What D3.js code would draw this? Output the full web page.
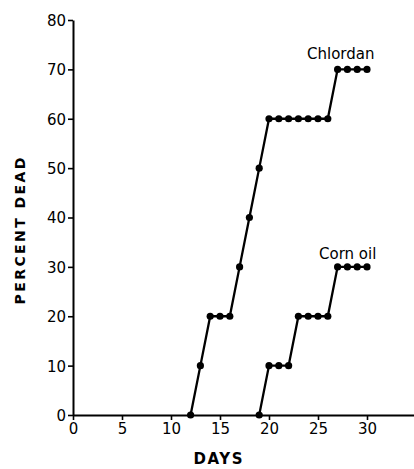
<!DOCTYPE html>
<html>
<head>
<meta charset="utf-8">
<script src="https://cdn.jsdelivr.net/npm/d3@7"></script>
<style>
  body { margin: 0; background: #fff; }
  svg { display: block; }
  text { font-family: "DejaVu Sans", Arial, sans-serif; fill: #000; }
</style>
</head>
<body>
<div id="chart-area"></div>
<script>
// data
let chlordanDays = [12, 13, 14, 15, 16, 17, 18, 19, 20, 21, 22, 23, 24, 25, 26, 27, 28, 29, 30];
let chlordanDead = [0, 10, 20, 20, 20, 30, 40, 50, 60, 60, 60, 60, 60, 60, 60, 70, 70, 70, 70];
let cornDays = [19, 20, 21, 22, 23, 24, 25, 26, 27, 28, 29, 30];
let cornDead = [0, 10, 10, 10, 20, 20, 20, 20, 30, 30, 30, 30];
let xTicks = [0, 5, 10, 15, 20, 25, 30];
let yTicks = [0, 10, 20, 30, 40, 50, 60, 70, 80];

let width = 414, height = 469;

let svg = d3.select("#chart-area").append("svg")
  .attr("width", width)
  .attr("height", height);

let x = d3.scaleLinear().domain([0, 35]).range([73, 416]);
let y = d3.scaleLinear().domain([0, 80]).range([415, 20]);

// axes
let xAxis = d3.axisBottom(x).tickValues(xTicks).tickSize(5).tickPadding(3).tickSizeOuter(0);
let yAxis = d3.axisLeft(y).tickValues(yTicks).tickSize(5).tickPadding(2).tickSizeOuter(0);

let gx = svg.append("g")
  .attr("transform", "translate(0," + y(0) + ")")
  .call(xAxis);
let gy = svg.append("g")
  .attr("transform", "translate(" + x(0) + ",0)")
  .call(yAxis);

[gx, gy].forEach(g => {
  g.select(".domain").attr("stroke", "#000").attr("stroke-width", 2);
  g.selectAll(".tick line").attr("stroke", "#000").attr("stroke-width", 1.6);
  g.selectAll(".tick text")
    .style("font-family", "'DejaVu Sans', Arial, sans-serif")
    .style("font-size", "15px")
    .attr("fill", "#000");
});
gy.selectAll(".tick text").attr("dy", "0.36em");

// series
let series = [
  {name: "Chlordan", days: chlordanDays, dead: chlordanDead, lx: 307, ly: 59},
  {name: "Corn oil", days: cornDays, dead: cornDead, lx: 319, ly: 259}
];

let line = d3.line()
  .x(d => x(d[0]))
  .y(d => y(d[1]));

series.forEach(s => {
  let pts = s.days.map((d, i) => [d, s.dead[i]]);
  svg.append("path")
    .datum(pts)
    .attr("fill", "none")
    .attr("stroke", "#000")
    .attr("stroke-width", 2.3)
    .attr("d", line);
  svg.selectAll(null)
    .data(pts)
    .enter()
    .append("circle")
    .attr("cx", d => x(d[0]))
    .attr("cy", d => y(d[1]))
    .attr("r", 3.6)
    .attr("fill", "#000");
  svg.append("text")
    .attr("x", s.lx)
    .attr("y", s.ly)
    .style("font-size", "15px")
    .text(s.name);
});

// axis titles
svg.append("text")
  .attr("x", 218)
  .attr("y", 464)
  .attr("text-anchor", "middle")
  .style("font-size", "15px")
  .style("font-weight", "bold")
  .attr("textLength", 49)
  .text("DAYS");

svg.append("text")
  .attr("transform", "translate(25,231) rotate(-90)")
  .attr("text-anchor", "middle")
  .style("font-size", "14px")
  .style("font-weight", "bold")
  .attr("textLength", 147)
  .text("PERCENT DEAD");
</script>
</body>
</html>
